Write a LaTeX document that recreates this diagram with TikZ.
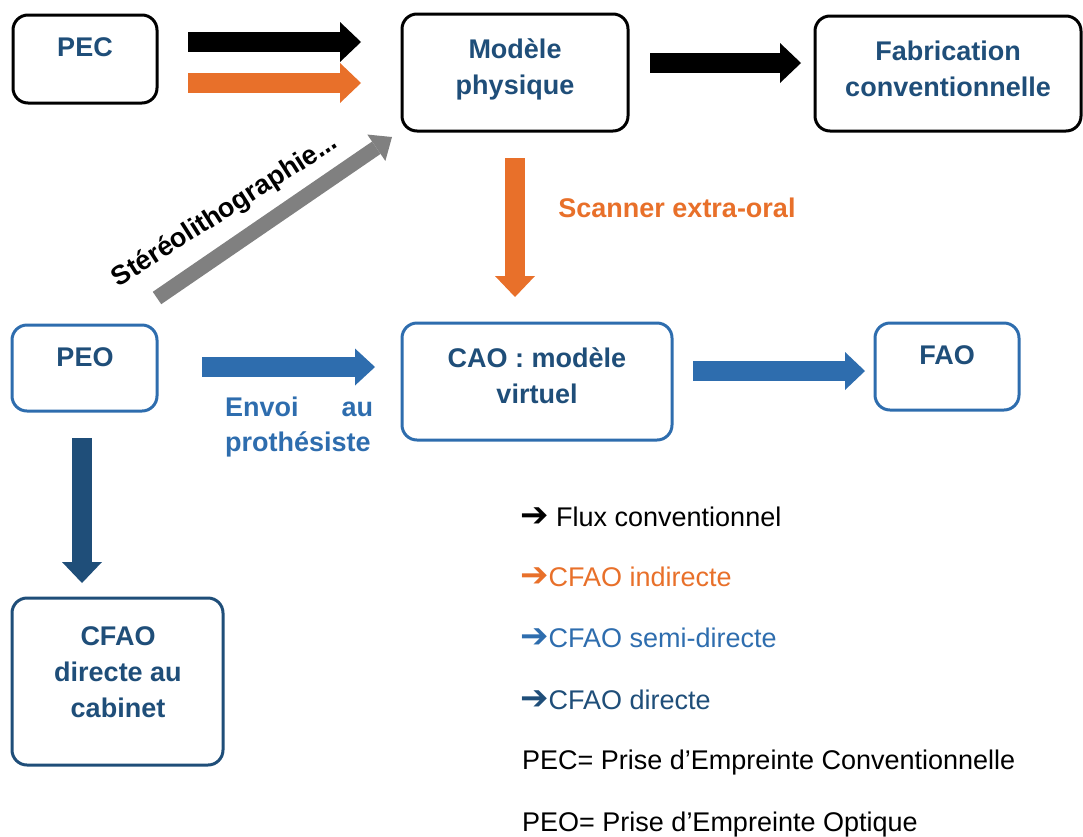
\documentclass[tikz,border=0pt]{standalone}
\usepackage{fontspec}
\setmainfont{Liberation Sans}
\newfontfamily\djv{DejaVu Sans Bold}
\usetikzlibrary{arrows.meta}
\definecolor{orng}{HTML}{E8702A}
\definecolor{blu}{HTML}{2E6DAE}
\definecolor{navy}{HTML}{1F4E79}
\definecolor{gry}{HTML}{808080}
\newcommand{\legarrow}{{\djv\fontsize{34}{30}\selectfont ➔}}
\tikzset{
  box/.style={draw=black, line width=3pt, rounded corners=15pt, inner sep=0pt, outer sep=0pt, fill=white},
  bluebox/.style={box, draw=blu},
  navybox/.style={box, draw=navy},
  btxt/.style={font=\fontsize{27}{36}\selectfont\bfseries, text=navy, align=center, inner sep=0pt},
  barrow/.style={line width=20pt, -{Triangle[length=21pt,width=40pt,line width=0pt]}},
  leg/.style={font=\fontsize{27}{30}\selectfont, anchor=base west, inner sep=0pt},
}
\begin{document}
\begin{tikzpicture}[x=1pt,y=-1pt]
\useasboundingbox (0,0) rectangle (1083,836);
% boxes
\node[box, minimum width=144pt, minimum height=88pt] (pec) at (85,59) {};
\node[box, minimum width=226pt, minimum height=117pt] (mod) at (515,72.5) {};
\node[box, minimum width=266pt, minimum height=115pt] (fab) at (948,73.5) {};
\node[bluebox, minimum width=145pt, minimum height=86pt] (peo) at (84.5,368) {};
\node[bluebox, minimum width=270pt, minimum height=117pt] (cao) at (537,381.5) {};
\node[bluebox, minimum width=144pt, minimum height=87pt] (fao) at (947,366.5) {};
\node[navybox, minimum width=211pt, minimum height=167pt] (cfao) at (117.5,681.5) {};
% box texts
\node[btxt] (tpec) at (85,47) {PEC};
\node[btxt] (tmod) at (515,69) {Modèle\\physique};
\node[btxt] (tfab) at (948,69) {Fabrication\\conventionnelle};
\node[btxt] (tpeo) at (85,357) {PEO};
\node[btxt] (tcao) at (537,376) {CAO : modèle\\virtuel};
\node[btxt] (tfao) at (947,355) {FAO};
\node[btxt] (tcfao) at (118,672) {CFAO\\directe au\\cabinet};
% arrow end points
\coordinate (a1s) at (188,42);  \coordinate (a1e) at (361,42);
\coordinate (a2s) at (188,83);  \coordinate (a2e) at (361,83);
\coordinate (a3s) at (650,63);  \coordinate (a3e) at (801,63);
\coordinate (a4s) at (157,298); \coordinate (a4e) at (392,137);
\coordinate (a5s) at (515,158); \coordinate (a5e) at (515,297);
\coordinate (a6s) at (202,367); \coordinate (a6e) at (375,367);
\coordinate (a7s) at (693,371); \coordinate (a7e) at (865,371);
\coordinate (a8s) at (82,438);  \coordinate (a8e) at (82,583);
% arrows
\draw[barrow, black] (a1s) -- (a1e);
\draw[barrow, orng] (a2s) -- (a2e);
\draw[barrow, black] (a3s) -- (a3e);
\draw[line width=15pt, gry, -{Triangle[length=19pt,width=32pt,line width=0pt]}] (a4s) -- (a4e);
\draw[barrow, orng] (a5s) -- (a5e);
\draw[line width=20pt, blu, -{Triangle[length=20pt,width=37pt,line width=0pt]}] (a6s) -- (a6e);
\draw[line width=20pt, blu, -{Triangle[length=20pt,width=38pt,line width=0pt]}] (a7s) -- (a7e);
\draw[barrow, navy] (a8s) -- (a8e);
% arrow labels
\node[font=\fontsize{27}{36}\selectfont\bfseries, rotate=32.5, anchor=base, inner sep=0pt] (stereo) at (229,217) {Stéréolithographie...};
\node[font=\fontsize{27}{36}\selectfont\bfseries, text=orng, inner sep=0pt] (scan) at (677,208) {Scanner extra-oral};
\node[font=\fontsize{27}{35}\selectfont\bfseries, text=blu, align=left, inner sep=0pt, anchor=west] (envoi) at (225,427) {\makebox[148pt][s]{Envoi\hfill au}\\prothésiste};
% legend
\node[leg] (l1) at (520,526.5) {\legarrow\ Flux conventionnel};
\node[leg, text=orng] (l2) at (520,586.5) {\legarrow CFAO indirecte};
\node[leg, text=blu] (l3) at (520,647.5) {\legarrow CFAO semi-directe};
\node[leg, text=navy] (l4) at (520,709.5) {\legarrow CFAO directe};
\node[leg] (l5) at (522,769.5) {PEC= Prise d’Empreinte Conventionnelle};
\node[leg] (l6) at (522,831) {PEO= Prise d’Empreinte Optique};
\end{tikzpicture}
\end{document}
